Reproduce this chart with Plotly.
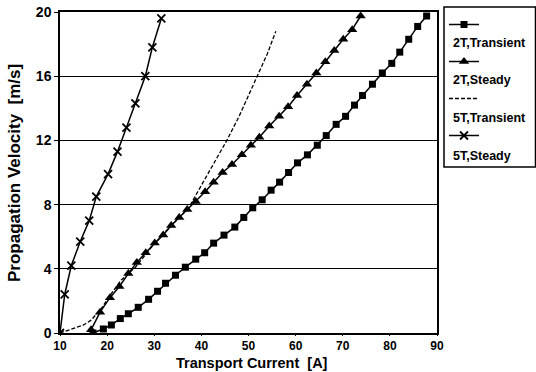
import plotly.graph_objects as go

# 2T, Transient (filled squares)
i_2t_tr = [17.0, 19.2, 20.9, 22.8, 24.5, 26.6, 28.8, 30.7, 32.4, 34.5, 36.6, 38.8, 40.7, 42.6,
           44.8, 47.1, 49.0, 50.9, 52.9, 54.8, 56.6, 58.5, 60.4, 62.5, 64.6, 66.5, 68.6, 70.6,
           72.5, 74.2, 76.3, 78.4, 80.4, 82.1, 84.0, 85.9, 87.8]
v_2t_tr = [0.0, 0.25, 0.5, 0.9, 1.2, 1.6, 2.1, 2.6, 3.1, 3.6, 4.1, 4.6, 5.0, 5.6,
           6.1, 6.6, 7.2, 7.8, 8.3, 8.9, 9.4, 10.0, 10.6, 11.1, 11.7, 12.3, 13.0, 13.5,
           14.2, 14.8, 15.5, 16.2, 16.8, 17.5, 18.3, 19.1, 19.75]

# 2T, Steady (filled triangles)
i_2t_st = [16.6, 18.5, 20.6, 22.6, 24.5, 26.3, 28.2, 30.1, 31.9, 33.6, 35.3, 37.0, 38.8, 40.8,
           42.6, 44.5, 46.5, 48.6, 50.5, 52.3, 54.4, 56.5, 58.4, 60.3, 62.4, 64.4, 66.3, 68.2,
           70.1, 72.0, 73.8]
v_2t_st = [0.2, 1.3, 2.2, 2.9, 3.7, 4.4, 5.0, 5.6, 6.1, 6.7, 7.2, 7.7, 8.2, 8.8,
           9.4, 10.0, 10.5, 11.1, 11.7, 12.2, 12.9, 13.5, 14.1, 14.8, 15.5, 16.2, 16.9, 17.6,
           18.3, 18.9, 19.75]

# 5T, Transient (dotted)
i_5t_tr = [10, 11, 13, 15, 16.6, 18.7, 21, 23, 26, 29, 32, 35, 37.3, 40, 43, 45.4, 48, 50,
           52.2, 54, 55.8]
v_5t_tr = [0, 0.1, 0.3, 0.5, 0.8, 1.5, 2.5, 3.3, 4.1, 5.2, 6.2, 7.1, 7.8, 9.2, 10.8, 12.0,
           13.5, 14.8, 16.2, 17.4, 18.8]

# 5T, Steady (x marks)
i_5t_st = [10.0, 11.0, 12.4, 14.3, 16.2, 17.7, 20.2, 22.2, 24.1, 26.0, 28.1, 29.6, 31.5]
v_5t_st = [0.0, 2.4, 4.2, 5.7, 7.0, 8.5, 9.9, 11.3, 12.8, 14.3, 16.0, 17.8, 19.6]

series_names = ["2T,Transient", "2T,Steady", "5T,Transient", "5T,Steady"]
x_ticks = [10, 20, 30, 40, 50, 60, 70, 80, 90]
y_ticks = [0, 4, 8, 12, 16, 20]
x_title = "Transport Current\u00a0\u00a0[A]"
y_title = "Propagation Velocity\u00a0\u00a0[m/s]"

FONT = "Liberation Sans, Arial, sans-serif"

W, H = 536, 372
ML, MR, MT, MB = 60, 99, 12, 39
PW, PH = W - ML - MR, H - MT - MB


def px_x(x):
    return (x - ML) / PW


def px_y(y):
    return (H - MB - y) / PH


fig = go.Figure()
fig.add_trace(go.Scatter(x=i_2t_tr, y=v_2t_tr, mode="lines+markers", name="",
                         legendgroup="a",
                         line=dict(color="black", width=1.5),
                         marker=dict(symbol="square", size=7, color="black")))
fig.add_trace(go.Scatter(x=i_2t_st, y=v_2t_st, mode="lines+markers", name="",
                         legendgroup="b",
                         line=dict(color="black", width=1.5),
                         marker=dict(symbol="triangle-up", size=9, color="black")))
fig.add_trace(go.Scatter(x=i_5t_tr, y=v_5t_tr, mode="lines", name="",
                         legendgroup="c",
                         line=dict(color="black", width=1.3, dash="4px,2px")))
fig.add_trace(go.Scatter(x=i_5t_st, y=v_5t_st, mode="lines+markers", name="",
                         legendgroup="d",
                         line=dict(color="black", width=1.5),
                         marker=dict(symbol="x-thin", size=8, color="black",
                                     line=dict(color="black", width=1.8))))

# legend frame and labels (text sits below each legend glyph, as in the original)
fig.add_shape(type="rect", xref="paper", yref="paper",
              x0=px_x(444), x1=px_x(535.5), y0=px_y(167), y1=px_y(7),
              line=dict(color="black", width=1.5), fillcolor="white", layer="below")
label_y = [43, 80.5, 118, 155.5]
for name, ly in zip(series_names, label_y):
    fig.add_annotation(text="<b>%s</b>" % name, xref="paper", yref="paper",
                       x=px_x(451), y=px_y(ly), xanchor="left", yanchor="middle",
                       showarrow=False, font=dict(size=12.5, family=FONT, color="black"))

# axis titles
fig.add_annotation(text="<b>%s</b>" % x_title, xref="paper", yref="paper",
                   x=px_x(252), y=px_y(362.5), xanchor="center", yanchor="middle",
                   showarrow=False, font=dict(size=14.5, family=FONT, color="black"))
fig.add_annotation(text="<b>%s</b>" % y_title, xref="paper", yref="paper",
                   x=px_x(15), y=px_y(173), xanchor="center", yanchor="middle",
                   textangle=-90, showarrow=False,
                   font=dict(size=17, family=FONT, color="black"))

fig.update_layout(
    width=W, height=H,
    margin=dict(l=ML, r=MR, t=MT, b=MB),
    paper_bgcolor="white", plot_bgcolor="white",
    font=dict(family=FONT, color="black", size=12),
    showlegend=True,
    legend=dict(xref="container", yref="container", x=444 / W, xanchor="left",
                y=1 - 10 / H, yanchor="top",
                borderwidth=0, bgcolor="rgba(0,0,0,0)",
                font=dict(size=10, family=FONT), itemwidth=30, tracegroupgap=18),
)
fig.update_xaxes(range=[10, 90], tickvals=x_ticks, ticktext=["<b>%d</b>" % t for t in x_ticks],
                 showgrid=False, zeroline=False, showline=True, linecolor="black",
                 linewidth=1.5, mirror=True, ticks="outside", ticklen=1, tickcolor="black",
                 tickfont=dict(size=12, family=FONT), automargin=False)
fig.update_yaxes(range=[0, 20], tickvals=y_ticks, ticktext=["<b>%d</b>" % t for t in y_ticks],
                 showgrid=True, gridcolor="black", gridwidth=1, zeroline=False,
                 showline=True, linecolor="black", linewidth=1.5, mirror=True,
                 ticks="outside", ticklen=4, tickcolor="black",
                 tickfont=dict(size=14, family=FONT), automargin=False)

fig.write_html("out.html", config={"displayModeBar": False},
               post_script="document.body.style.margin='0px';")
